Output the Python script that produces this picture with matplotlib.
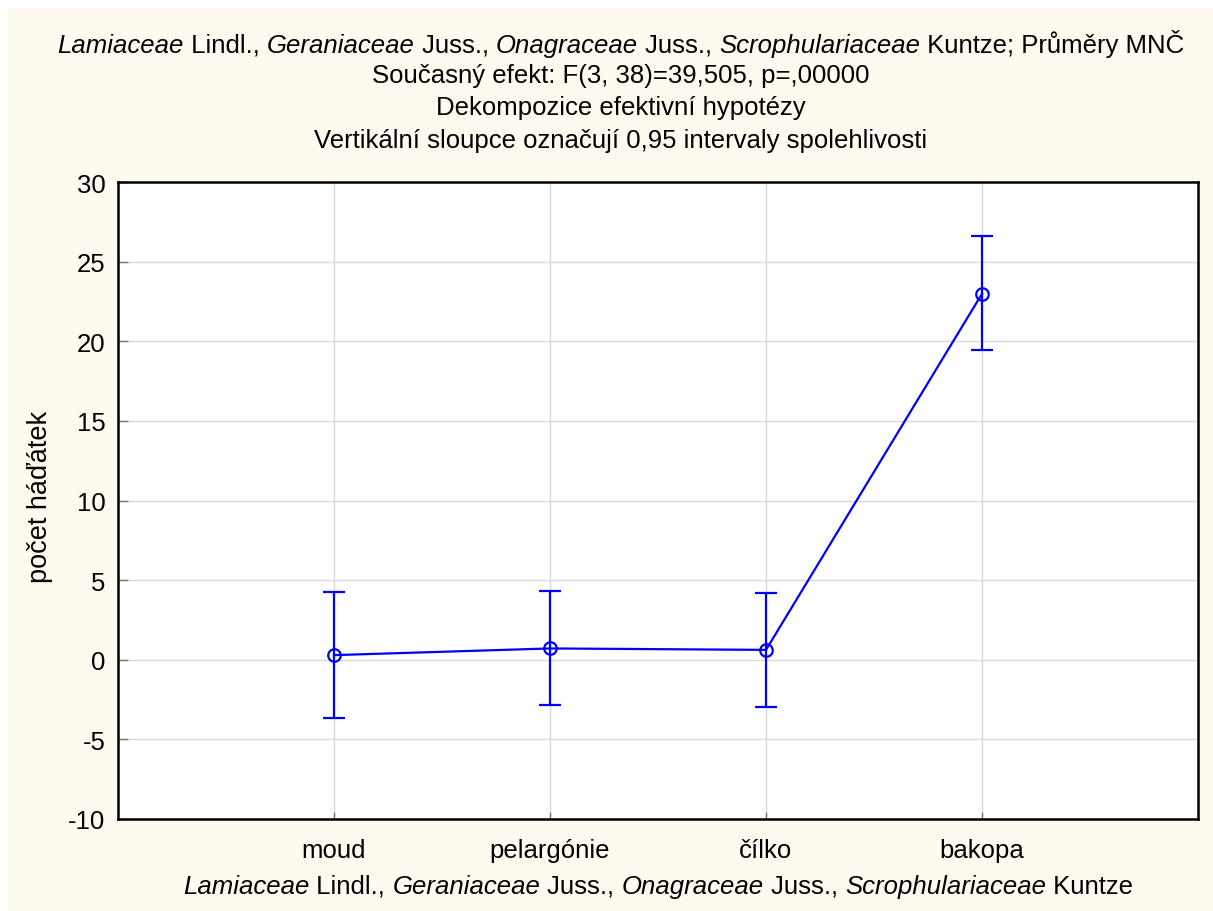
import matplotlib
matplotlib.use("Agg")
import matplotlib.pyplot as plt
from matplotlib.patches import Rectangle
from matplotlib.offsetbox import TextArea, HPacker, AnnotationBbox

categories = ["moud", "pelargónie", "čílko", "bakopa"]
means = [0.29, 0.71, 0.62, 22.98]
upper = [4.25, 4.29, 4.19, 26.58]
lower = [-3.63, -2.85, -2.94, 19.44]
yticks = [-10, -5, 0, 5, 10, 15, 20, 25, 30]
ytick_labels = ["-10", "-5", "0", "5", "10", "15", "20", "25", "30"]

FONT = "Liberation Sans"
plt.rcParams["font.family"] = [FONT, "DejaVu Sans"]
FS = 18.5

W, H = 1213, 912
fig = plt.figure(figsize=(W / 100, H / 100), dpi=100)
fig.patch.set_facecolor("white")
fig.patches.append(Rectangle((8 / W, 0), 1 - 8 / W, 1 - 9 / H, transform=fig.transFigure,
                             facecolor="#FFFAEF", edgecolor="none", zorder=-10))

ax = fig.add_axes([118 / W, 92 / H, 1080 / W, 637 / H])
ax.set_facecolor("white")

x = list(range(len(categories)))
err_lo = [m - l for m, l in zip(means, lower)]
err_hi = [u - m for m, u in zip(means, upper)]
ax.errorbar(x, means, yerr=[err_lo, err_hi], color="#0000FF", lw=1.6, elinewidth=1.6,
            capsize=8, capthick=1.6, marker="o", markersize=9, markerfacecolor="none",
            markeredgecolor="#0000FF", markeredgewidth=1.6, zorder=3)

ax.set_xlim(-1, 4)
ax.set_ylim(-10, 30)
ax.set_xticks(x)
ax.set_xticklabels(categories, fontsize=FS)
ax.set_yticks(yticks)
ax.set_yticklabels(ytick_labels, fontsize=FS)
ax.tick_params(axis="y", direction="in", length=7, width=1, color="#777777", pad=9)
ax.tick_params(axis="x", direction="in", length=5, width=1, color="#777777", pad=14)
ax.grid(True, color="#DADADA", lw=1)
ax.set_axisbelow(True)
for s in ax.spines.values():
    s.set_linewidth(1.8)
    s.set_color("black")

fig.text(40 / W, 1 - 497 / H, "počet háďátek", rotation=90, ha="center", va="center", fontsize=19.5)


def mixed_line(pieces, xc, yc, size):
    areas = []
    for txt, italic in pieces:
        areas.append(TextArea(txt, textprops=dict(fontsize=size, family=[FONT, "DejaVu Sans"],
                                                   style="italic" if italic else "normal")))
    box = HPacker(children=areas, align="baseline", pad=0, sep=0)
    ab = AnnotationBbox(box, (xc, yc), xycoords="figure fraction", frameon=False,
                        box_alignment=(0.5, 0.5), pad=0)
    fig.add_artist(ab)


fam_pieces = [("Lamiaceae", True), (" Lindl., ", False), ("Geraniaceae", True), (" Juss., ", False),
              ("Onagraceae", True), (" Juss., ", False), ("Scrophulariaceae", True), (" Kuntze", False)]

mixed_line(fam_pieces + [("; Průměry MNČ", False)], 621 / W, 1 - 44 / H, FS)
fig.text(621 / W, 1 - 76 / H, "Současný efekt: F(3, 38)=39,505, p=,00000", ha="center", va="center", fontsize=FS)
fig.text(621 / W, 1 - 108 / H, "Dekompozice efektivní hypotézy", ha="center", va="center", fontsize=FS)
fig.text(621 / W, 1 - 141 / H, "Vertikální sloupce označují 0,95 intervaly spolehlivosti", ha="center", va="center", fontsize=FS)

mixed_line(fam_pieces, 658 / W, 1 - 887 / H, FS)

fig.savefig("out.png", dpi=100)
